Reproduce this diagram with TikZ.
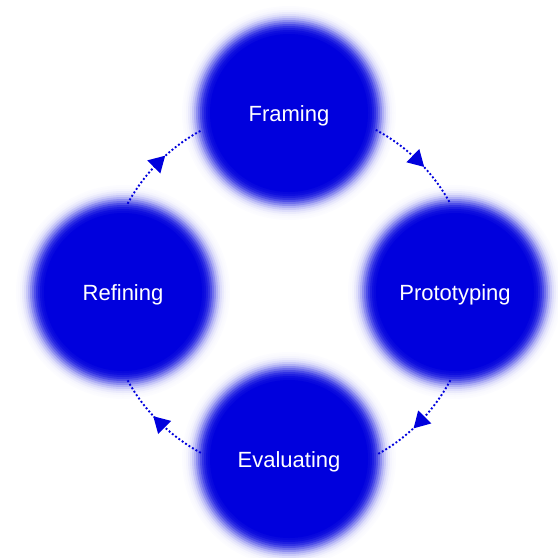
\documentclass[tikz,border=0pt]{standalone}
\usepackage{fontspec}
\setmainfont{Liberation Sans}
\usetikzlibrary{positioning,arrows.meta,decorations.markings,backgrounds}
\definecolor{blu}{HTML}{0000DD}

\begin{document}
\begin{tikzpicture}[x=0.5pt,y=-0.5pt,
  phase/.style={circle,inner sep=0pt,minimum size=88pt,text=white,
    text height=8pt,text depth=0pt,font=\fontsize{11}{13}\selectfont},
  flow/.style={draw=blu,line width=0.95pt,dash pattern=on 0.95pt off 1.1pt,
    looseness=0.87,postaction={decorate},
    decoration={markings,mark=at position 0.5 with
      {\arrow[xshift=4pt,fill=blu,draw=blu]{Triangle[length=8pt,width=9pt]}}}}]
  \useasboundingbox (0,0) rectangle (558,558);
  \node[phase] (framing) at (289,113) {Framing};
  \node[phase] (proto)   at (455,292) {Prototyping};
  \node[phase] (eval)    at (289,459) {Evaluating};
  \node[phase] (refine)  at (123,292) {Refining};
  % soft discs behind the labels
  \begin{scope}[on background layer]
    \foreach \n in {framing,proto,eval,refine}
      \foreach \r/\p in {107/1,105/2,103/4,101/8,99/13,97/21,95/31,93/44,
                         91/56,89/69,87/80,85/88,83/94,81/97,79/100}
        {\fill[blu!\p!white] (\n.center) circle (\r);}
  \end{scope}
  % arcs of one ring, clockwise
  \foreach \a/\sa/\b/\eb/\o/\i in {framing/-11/proto/93/-28/118.5,
      proto/-93/eval/3.5/-118.5/28.5,eval/176.5/refine/-87/151.5/-61.5,
      refine/87/framing/191/61.5/208}
    {\draw[flow] (\a.\sa) to[out=\o,in=\i] (\b.\eb);}
\end{tikzpicture}
\end{document}
